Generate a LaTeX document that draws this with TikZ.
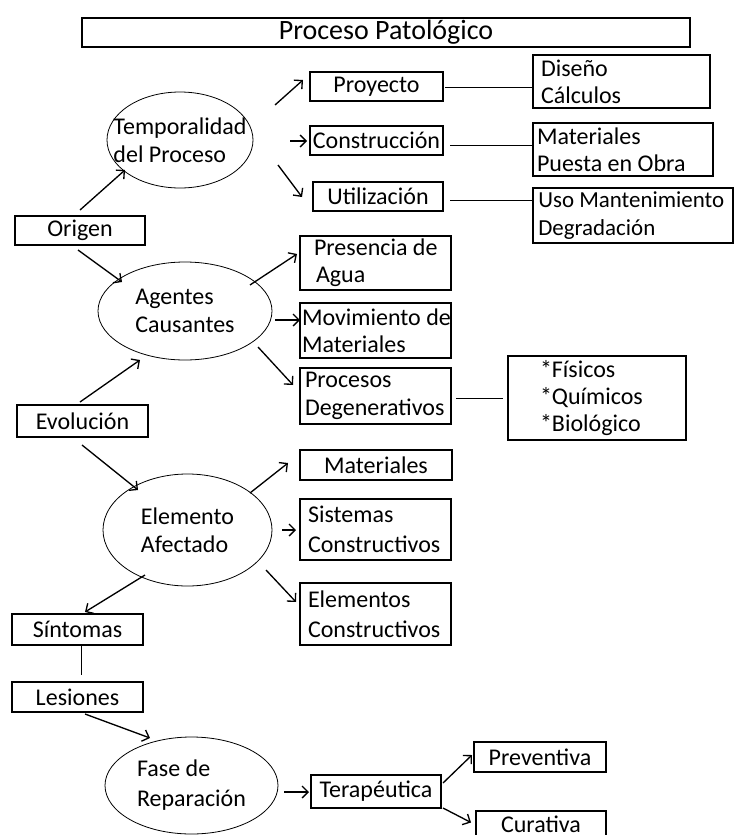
\documentclass[tikz,border=0pt]{standalone}
\usepackage{fontspec}
\setmainfont{Carlito}
\usetikzlibrary{arrows.meta,shapes.geometric}
\hyphenpenalty=10000
\exhyphenpenalty=10000
\tikzset{
  bx/.style={draw, line width=1pt, inner sep=0pt, font=\fontsize{18}{20.5}\selectfont},
  ov/.style={draw, ellipse, line width=0.6pt, inner sep=-14pt, align=flush left, font=\fontsize{18}{21}\selectfont},
  lt/.style={align=flush left},
  arr/.style={line width=1pt, -{Straight Barb[length=4.5pt,width=9pt]}},
  ln/.style={line width=0.7pt},
}
\newcommand\pbx[7][]{\node[bx,minimum width={(#5-#3)*0.75pt},minimum height={(#6-#4)*0.75pt},#1] (#2) at ({(#3+#5)/2},{(#4+#6)/2}) {#7};}
\begin{document}
\begin{tikzpicture}[x=0.75pt,y=-0.75pt]
\useasboundingbox (0,0) rectangle (735,835);
\pbx[line width=1.5pt, font=\fontsize{21}{24}\selectfont]{title}{82}{18}{690}{47}{Proceso Patológico}
\pbx{proy}{310}{72}{443}{101}{Proyecto}
\pbx[lt,inner xsep=6pt,text width=120.75pt]{dis}{533}{55}{710}{108}{Diseño\\Cálculos}
\node[ov, minimum width=109.5pt, minimum height=72pt] (temp) at (180,140) {Temporalidad\\del Proceso};
\pbx{cons}{310}{126}{443}{155}{Construcción}
\pbx[lt,inner xsep=3pt,text width=129pt]{mat1}{533}{123}{713}{176}{Materiales\\\mbox{Puesta en Obra}}
\pbx{util}{313}{182}{443}{211}{Utilización}
\pbx[lt,inner xsep=4pt,text width=142pt,font=\fontsize{17.2}{20.5}\selectfont]{uso}{533}{188}{733}{243}{\mbox{Uso Mantenimiento}\\Degradación}
\pbx{orig}{15}{216}{145}{245}{Origen}
\pbx[lt,inner xsep=10.5pt,text width=92.25pt]{pres}{300}{236}{451}{290}{\mbox{Presencia de}\\\hspace{1.5pt}Agua}
\node[ov, minimum width=130.5pt, minimum height=73.5pt] (agen) at (185,311) {Agentes\\Causantes};
\pbx[lt,inner xsep=1.5pt,text width=110.25pt]{mov}{300}{303}{451}{358}{\mbox{Movimiento de}\\Materiales}
\pbx[lt,inner xsep=3.75pt,text width=105.75pt]{proc}{300}{368}{451}{424}{Procesos\\Degenerativos}
\pbx[lt,inner xsep=24pt,text width=85.5pt]{fis}{508}{356}{686}{440}{*Físicos\\{*}Químicos\\{*}Biológico}
\pbx{evol}{17}{405}{148}{437}{Evolución}
\pbx{mat2}{300}{450}{452}{480}{Materiales}
\node[ov, minimum width=126.75pt, minimum height=84pt] (elem) at (187.5,530) {Elemento\\Afectado};
\pbx[lt,inner xsep=6pt,text width=101.25pt,font=\fontsize{18}{22.5}\selectfont]{sist}{300}{499}{451}{560}{Sistemas\\Constructivos}
\pbx[lt,inner xsep=6pt,text width=101.25pt,font=\fontsize{18}{22.5}\selectfont]{elems}{300}{583}{451}{645}{Elementos\\Constructivos}
\pbx{sint}{12}{614}{143}{645}{Síntomas}
\pbx{les}{12}{682}{143}{712}{Lesiones}
\node[ov, minimum width=129.75pt, minimum height=72.75pt, font=\fontsize{18}{22.5}\selectfont] (fase) at (191.5,785.5) {Fase de\\Reparación};
\pbx{tera}{311}{775}{441}{808}{Terapéutica}
\pbx{prev}{474}{742}{606}{772}{Preventiva}
\pbx{cur}{476}{811}{606}{837}{Curativa}

% arrows
\draw[arr] ([shift={(95,-35)}]temp.center) -- ([shift={(-73.5,-6.5)}]proy.center);
\draw[arr] ([shift={(110,1)}]temp.center) -- ([shift={(-69.5,0.5)}]cons.center);
\draw[arr] ([shift={(98,25)}]temp.center) -- ([shift={(-76,0.5)}]util.center);
\draw[arr] ([shift={(0,-20.5)}]orig.center) -- ([shift={(-55,30)}]temp.center);
\draw[arr] ([shift={(-2,19.5)}]orig.center) -- ([shift={(-63,-29)}]agen.center);
\draw[arr] ([shift={(65,-26)}]agen.center) -- ([shift={(-78.5,-9)}]pres.center);
\draw[arr] ([shift={(90,9)}]agen.center) -- ([shift={(-75.5,-10.5)}]mov.center);
\draw[arr] ([shift={(73,36)}]agen.center) -- ([shift={(-82.5,-11)}]proc.center);
\draw[arr] ([shift={(-2.5,-19)}]evol.center) -- ([shift={(-45,49)}]agen.center);
\draw[arr] ([shift={(-0.5,24)}]evol.center) -- ([shift={(-49.5,-40)}]elem.center);
\draw[arr] ([shift={(62.5,-37)}]elem.center) -- ([shift={(-88,-2)}]mat2.center);
\draw[arr] ([shift={(94.5,0)}]elem.center) -- ([shift={(-79.5,0.5)}]sist.center);
\draw[arr] ([shift={(78.5,40)}]elem.center) -- ([shift={(-79.5,-12)}]elems.center);
\draw[arr] ([shift={(-42.5,45)}]elem.center) -- ([shift={(7.5,-17.5)}]sint.center);
\draw[arr] ([shift={(7.5,17)}]les.center) -- ([shift={(-41.5,-47.5)}]fase.center);
\draw[arr] ([shift={(92.5,6.5)}]fase.center) -- ([shift={(-67,0.5)}]tera.center);
\draw[arr] ([shift={(67,-8.5)}]tera.center) -- ([shift={(-68,-2)}]prev.center);
\draw[arr] ([shift={(67,16.5)}]tera.center) -- ([shift={(-70,-1.5)}]cur.center);

% plain lines
\draw[ln] ([shift={(68.5,0.5)}]proy.center) -- ([shift={(-88.5,5.5)}]dis.center);
\draw[ln] ([shift={(73.5,4.5)}]cons.center) -- ([shift={(-90,-4.5)}]mat1.center);
\draw[ln] ([shift={(72,3.5)}]util.center) -- ([shift={(-100,-15.5)}]uso.center);
\draw[ln] ([shift={(80.5,2)}]proc.center) -- ([shift={(-94,0)}]fis.center);
\draw[ln] ([shift={(3.5,16.5)}]sint.center) -- ([shift={(3.5,-22)}]les.center);
\end{tikzpicture}
\end{document}
